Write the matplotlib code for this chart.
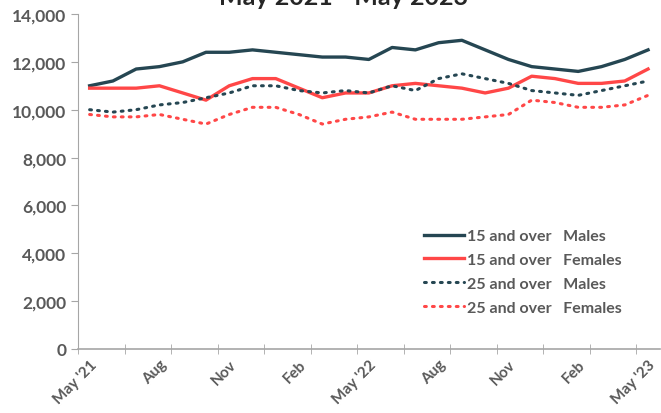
import matplotlib
matplotlib.use("Agg")
import matplotlib.pyplot as plt
import numpy as np

months = ["May '21", "Jun", "Jul", "Aug", "Sep", "Oct", "Nov", "Dec", "Jan", "Feb", "Mar", "Apr",
          "May '22", "Jun", "Jul", "Aug", "Sep", "Oct", "Nov", "Dec", "Jan", "Feb", "Mar", "Apr",
          "May '23"]

males_15 = [11000, 11200, 11700, 11800, 12000, 12400, 12400, 12500, 12400, 12300, 12200, 12200,
            12100, 12600, 12500, 12800, 12900, 12500, 12100, 11800, 11700, 11600, 11800, 12100, 12500]
females_15 = [10900, 10900, 10900, 11000, 10700, 10400, 11000, 11300, 11300, 10900, 10500, 10700,
              10700, 11000, 11100, 11000, 10900, 10700, 10900, 11400, 11300, 11100, 11100, 11200, 11700]
males_25 = [10000, 9900, 10000, 10200, 10300, 10500, 10700, 11000, 11000, 10800, 10700, 10800,
            10700, 11000, 10800, 11300, 11500, 11300, 11100, 10800, 10700, 10600, 10800, 11000, 11200]
females_25 = [9800, 9700, 9700, 9800, 9600, 9400, 9800, 10100, 10100, 9800, 9400, 9600,
              9700, 9900, 9600, 9600, 9600, 9700, 9800, 10400, 10300, 10100, 10100, 10200, 10600]

DARK = "#254652"
RED = "#FF4747"
GREY = "#595959"

plt.rcParams["font.family"] = ["Lato", "DejaVu Sans"]
plt.rcParams["font.weight"] = "bold"

fig = plt.figure(figsize=(6.61, 4.14), dpi=100)
ax = fig.add_axes([0.118, 0.1546, 0.880, 0.8092])

x = np.arange(len(months))
ax.plot(x, males_15, color=DARK, lw=2.4, label="15 and over   Males")
ax.plot(x, females_15, color=RED, lw=2.4, label="15 and over   Females")
ax.plot(x, males_25, color=DARK, lw=2.2, linestyle=(0, (0.6, 2.0)),
        dash_capstyle="round", label="25 and over   Males")
ax.plot(x, females_25, color=RED, lw=2.2, linestyle=(0, (0.6, 2.0)),
        dash_capstyle="round", label="25 and over   Females")

ax.set_xlim(-0.5, len(months) - 0.5)
ax.set_ylim(0, 14000)
ax.set_yticks(range(0, 14001, 2000))
ax.set_yticklabels([f"{v:,}" for v in range(0, 14001, 2000)])

# labels every 3 months, tick marks every 2 months between categories
ax.set_xticks(x[::3])
ax.set_xticklabels([months[i] for i in x[::3]], rotation=45, ha="right",
                   rotation_mode="anchor", fontsize=11)
ax.set_xticks(np.arange(-0.5, len(months), 2), minor=True)
ax.tick_params(axis="x", which="major", length=0, pad=6)
ax.tick_params(axis="x", which="minor", direction="inout", length=7, color="#A6A6A6")
ax.tick_params(axis="y", direction="out", length=5, color="#A6A6A6", labelsize=12.5)
ax.tick_params(labelcolor=GREY)

for s in ["top", "right"]:
    ax.spines[s].set_visible(False)
ax.spines["left"].set_color("#A6A6A6")
ax.spines["bottom"].set_color("#A6A6A6")
ax.spines["bottom"].set_linewidth(1.2)

leg = ax.legend(loc="lower right", bbox_to_anchor=(0.96, 0.06), frameon=False,
                fontsize=11.5, handlelength=2.5, handletextpad=0.2, labelspacing=0.6)
for t in leg.get_texts():
    t.set_color(GREY)

fig.text(0.52, 1.005, "May 2021 - May 2023", ha="center", va="center",
         fontsize=18, fontweight="bold", color="#262626")

fig.savefig("out.png", dpi=100)
